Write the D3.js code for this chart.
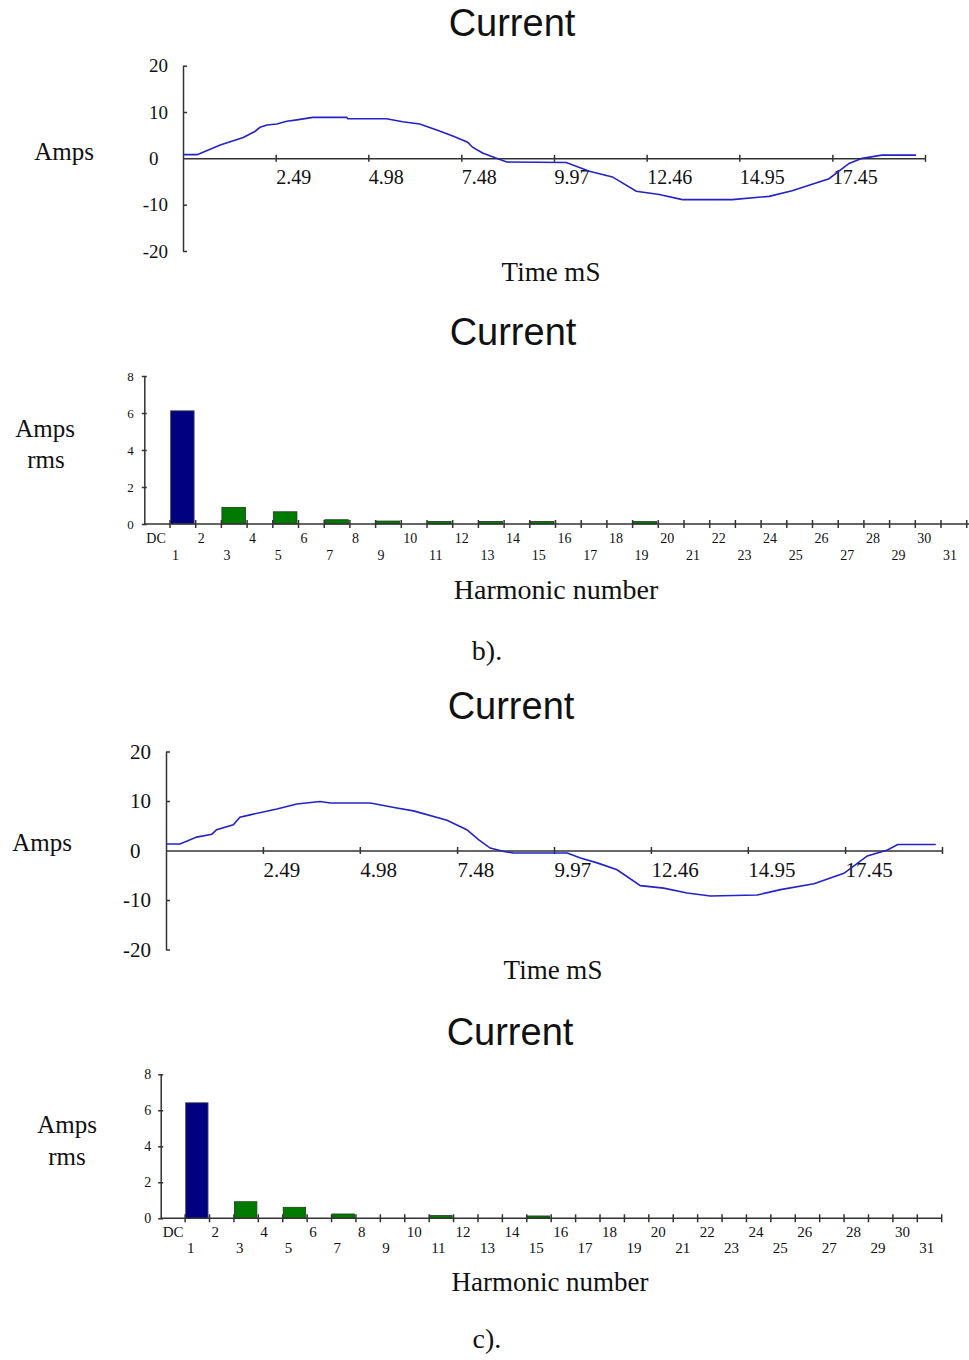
<!DOCTYPE html>
<html>
<head>
<meta charset="utf-8">
<script src="https://cdn.jsdelivr.net/npm/d3@7"></script>
<style>
  body { margin: 0; background: #fff; }
  text { fill: #111; }
</style>
</head>
<body>
<svg id="chart" width="969" height="1360"></svg>
<script>
// values

// time axis (ms) and amps ticks
var timeTicks = [2.49, 4.98, 7.48, 9.97, 12.46, 14.95, 17.45, 19.94];
var timeEnd = 19.94;
var ampTicks = [-20, -10, 0, 10, 20];
var rmsTicks = [0, 2, 4, 6, 8];
var harmLabels = ["DC"];
for (var h = 1; h <= 31; h++) harmLabels.push(String(h));

// waveform b)
var waveB_t = [0, 0.38, 1.00, 1.62, 1.93, 2.07, 2.26, 2.52, 2.79, 3.06, 3.49, 4.40, 4.43, 5.47, 5.90, 6.36, 6.82, 7.25, 7.65, 7.78,
               8.05, 8.37, 8.70, 10.30, 10.92, 11.54, 12.18, 12.80, 13.42, 14.76, 15.75, 16.37, 17.36, 17.90, 18.25, 18.78, 19.70];
var waveB_i = [0.8, 0.8, 2.9, 4.5, 5.8, 6.7, 7.2, 7.4, 8.0, 8.3, 8.85, 8.85, 8.55, 8.55, 7.9, 7.4, 6.1, 4.8, 3.5, 2.4,
               1.15, 0.2, -0.8, -0.9, -2.8, -4.0, -7.1, -7.8, -8.9, -8.9, -8.2, -7.0, -4.4, -1.1, 0, 0.7, 0.7];

// harmonic spectrum b) : DC, 1..31
var harmB = [0, 6.12, 0, 0.9, 0, 0.66, 0, 0.23, 0, 0.16, 0, 0.14, 0, 0.14, 0, 0.14,
             0, 0, 0, 0.13, 0, 0, 0, 0, 0, 0, 0, 0, 0, 0, 0, 0];

// waveform c)
var waveC_t = [0, 0.36, 0.79, 1.18, 1.30, 1.73, 1.90, 2.16, 2.85, 3.36, 3.96, 4.22, 5.25, 5.93, 6.36, 7.22, 7.73, 8.03, 8.33,
               8.68, 8.93, 9.62, 10.31, 10.65, 11.08, 11.59, 12.19, 12.79, 13.39, 13.99, 15.19, 15.79, 16.65, 17.42, 18.02,
               18.54, 18.80, 19.78];
var waveC_i = [1.3, 1.3, 2.7, 3.3, 4.2, 5.2, 6.7, 7.2, 8.4, 9.4, 9.9, 9.6, 9.6, 8.6, 8.0, 6.1, 4.2, 2.2, 0.5,
               -0.2, -0.5, -0.5, -0.5, -1.5, -2.5, -3.9, -7.1, -7.6, -8.6, -9.2, -9.0, -7.9, -6.7, -4.6, -1.1,
               0.1, 1.2, 1.2];

// harmonic spectrum c)
var harmC = [0, 6.42, 0, 0.92, 0, 0.61, 0, 0.24, 0, 0, 0, 0.15, 0, 0, 0, 0.13,
             0, 0, 0, 0, 0, 0, 0, 0, 0, 0, 0, 0, 0, 0, 0, 0];

var svg = d3.select("#chart");
svg.append("rect").attr("width", 969).attr("height", 1360).attr("fill", "#fff");

var serif = "'Liberation Serif', 'Times New Roman', serif";
var sans = "'Liberation Sans', Arial, sans-serif";
var axisColor = "#333";

function title(x, y, txt) {
	svg.append("text").attr("x", x).attr("y", y)
		.attr("text-anchor", "middle")
		.style("font-family", sans).style("font-size", "38px")
		.text(txt);
}

function label(x, y, txt, size) {
	svg.append("text").attr("x", x).attr("y", y)
		.attr("text-anchor", "middle")
		.style("font-family", serif).style("font-size", size + "px")
		.text(txt);
}

function drawWave(cfg, t, amps) {
	var x = d3.scaleLinear().domain([0, timeEnd]).range([cfg.left, cfg.right]);
	var y = d3.scaleLinear().domain([-20, 20]).range([cfg.bottom, cfg.top]);
	var g = svg.append("g");

	// y axis, ticks point inward
	var ya = g.append("g").attr("transform", "translate(" + cfg.left + ",0)")
		.call(d3.axisLeft(y).tickValues(ampTicks).tickSizeInner(-4).tickSizeOuter(0).tickPadding(11 + 4)
			.tickFormat(function(d) { return String(d); }));
	ya.select(".domain").attr("stroke", axisColor).attr("stroke-width", 1.5);
	ya.selectAll(".tick line").attr("stroke", axisColor).attr("stroke-width", 1.5);
	ya.selectAll(".tick text")
		.style("font-family", serif).style("font-size", cfg.yFont + "px").attr("fill", "#111")
		.attr("dx", function(d) { return d === 0 ? "-0.5em" : 0; });
	ya.selectAll(".tick").filter(function(d) { return d === 0; }).select("line").remove();

	// x axis through zero
	var xa = g.append("g").attr("transform", "translate(0," + y(0) + ")")
		.call(d3.axisBottom(x).tickValues(timeTicks).tickSizeInner(3.5).tickSizeOuter(0)
			.tickFormat(function(d) { return d === timeEnd ? "" : d3.format(".2f")(d); }));
	xa.select(".domain").attr("stroke", axisColor).attr("stroke-width", 1.5);
	xa.selectAll(".tick line").attr("stroke", axisColor).attr("stroke-width", 1.5).attr("y1", -3.5);
	xa.selectAll(".tick text")
		.style("font-family", serif).style("font-size", cfg.xFont + "px").attr("fill", "#111")
		.attr("text-anchor", "start").attr("y", 7).attr("dy", "0.95em");

	var pts = t.map(function(d, i) { return [d, amps[i]]; });
	var line = d3.line().x(function(d) { return x(d[0]); }).y(function(d) { return y(d[1]); });
	g.append("path").datum(pts)
		.attr("d", line)
		.attr("fill", "none")
		.attr("stroke", "#2323c6")
		.attr("stroke-width", 1.6);
}

function drawHarm(cfg, vals) {
	var x = d3.scaleBand().domain(harmLabels).range([cfg.left, cfg.right]).padding(0);
	var y = d3.scaleLinear().domain([0, 8]).range([cfg.bottom, cfg.top]);
	var g = svg.append("g");

	// bars
	g.selectAll("rect").data(vals).enter().append("rect")
		.attr("x", function(d, i) { return x(harmLabels[i]) + 0.5; })
		.attr("width", x.bandwidth() * 0.92)
		.attr("y", function(d) { return y(d); })
		.attr("height", function(d) { return cfg.bottom - y(d); })
		.attr("fill", function(d, i) { return i === 1 ? "#000080" : "#007a00"; })
		.attr("stroke", function(d, i) { return i === 1 ? "#555" : "#1d3d1d"; })
		.attr("stroke-width", 0.8)
		.style("display", function(d) { return d > 0 ? null : "none"; });

	// y axis
	var ya = g.append("g").attr("transform", "translate(" + cfg.left + ",0)")
		.call(d3.axisLeft(y).tickValues(rmsTicks).tickSizeInner(2.5).tickSizeOuter(0).tickPadding(cfg.yPad));
	ya.select(".domain").attr("stroke", axisColor).attr("stroke-width", 1.5);
	ya.selectAll(".tick line").attr("stroke", axisColor).attr("stroke-width", 1.5).attr("x2", 2.5).attr("x1", -2.5);
	ya.selectAll(".tick text").style("font-family", serif).style("font-size", cfg.yFont + "px").attr("fill", "#111");

	// x axis with ticks at the band edges
	var edges = harmLabels.slice(1).map(function(d) { return x(d); });
	edges.push(cfg.right);
	var xa = g.append("g").attr("transform", "translate(0," + cfg.bottom + ")");
	xa.append("line").attr("x1", cfg.left).attr("x2", cfg.axisEnd)
		.attr("stroke", axisColor).attr("stroke-width", 1.5);
	xa.selectAll("line.tk").data(edges).enter().append("line").attr("class", "tk")
		.attr("x1", function(d) { return d; }).attr("x2", function(d) { return d; })
		.attr("y1", -4).attr("y2", 4)
		.attr("stroke", axisColor).attr("stroke-width", 1.5);
	xa.selectAll("text").data(harmLabels).enter().append("text")
		.attr("x", function(d) { return x(d) + 2; })
		.attr("y", function(d, i) { return i % 2 === 0 ? cfg.row1 : cfg.row2; })
		.style("font-family", serif).style("font-size", cfg.xFont + "px")
		.text(function(d) { return d; });
}

// ---- b) ----
title(512, 36, "Current");
drawWave({ left: 183, right: 925, top: 65.7, bottom: 251, yFont: 19, xFont: 20 }, waveB_t, waveB_i);
label(64, 160, "Amps", 25);
label(551, 281, "Time mS", 27);

title(513, 345, "Current");
drawHarm({ left: 144.3, right: 966.7, axisEnd: 969, top: 376, bottom: 524, yFont: 13, yPad: 8, xFont: 14, row1: 19, row2: 36 }, harmB);
label(45, 437, "Amps", 25);
label(46, 468, "rms", 25);
label(556, 599, "Harmonic number", 28);
label(487, 660, "b).", 28);

// ---- c) ----
title(511, 719, "Current");
drawWave({ left: 166, right: 942, top: 751.5, bottom: 949.5, yFont: 21, xFont: 21 }, waveC_t, waveC_i);
label(42, 851, "Amps", 25);
label(553, 979, "Time mS", 27);

title(510, 1045, "Current");
drawHarm({ left: 160.7, right: 941.7, axisEnd: 941.7, top: 1074.3, bottom: 1218.3, yFont: 14, yPad: 7, xFont: 15, row1: 19, row2: 35 }, harmC);
label(67, 1133, "Amps", 25);
label(67, 1165, "rms", 25);
label(550, 1291, "Harmonic number", 27);
label(487, 1348, "c).", 28);
</script>
</body>
</html>
